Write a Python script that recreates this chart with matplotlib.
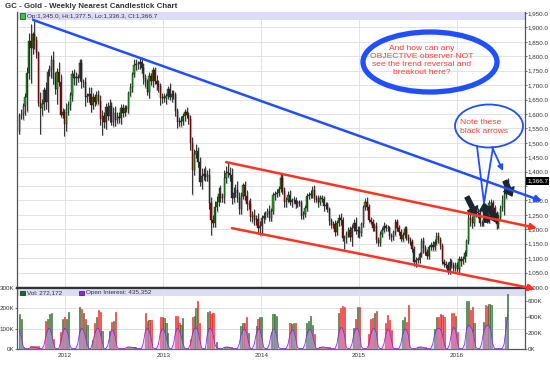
import matplotlib
matplotlib.use("Agg")
import matplotlib.pyplot as plt
import matplotlib.dates as mdates
from matplotlib.patches import Ellipse, Rectangle, FancyArrowPatch
from matplotlib.lines import Line2D
import numpy as np
import pandas as pd

plt.rcParams['font.family'] = ['Liberation Sans', 'DejaVu Sans']

# GC nearest, weekly bars 15 Jul 2011 .. 8 Jul 2016
first_open = 1542
close = [
    1594, 1601, 1628, 1659, 1742, 1852, 1828, 1876, 1856, 1813, 1637, 1620, 1635,
    1682, 1642, 1746, 1755, 1788, 1725, 1685, 1745, 1712, 1598, 1606, 1566,
    # 2012
    1617, 1630, 1665, 1737, 1725, 1725, 1725, 1776, 1710, 1712,
    1658, 1662, 1669, 1631, 1659, 1643, 1664, 1645, 1583, 1592,
    1573, 1623, 1593, 1627, 1572, 1604, 1579, 1591, 1585, 1621,
    1605, 1621, 1617, 1671, 1692, 1737, 1771, 1774, 1772, 1781,
    1758, 1725, 1712, 1677, 1731, 1714, 1752, 1714, 1704, 1697, 1657, 1656,
    # 2013
    1656, 1662, 1687, 1658, 1669, 1667, 1609, 1573, 1572, 1577,
    1592, 1608, 1596, 1581, 1501, 1405, 1462, 1470, 1435, 1364,
    1386, 1393, 1383, 1387, 1292, 1234, 1223, 1277, 1295, 1322,
    1310, 1312, 1377, 1395, 1396, 1387, 1308, 1326, 1338, 1310,
    1272, 1315, 1352, 1315, 1287, 1288, 1244, 1250, 1231, 1236, 1204, 1213,
    # 2014
    1238, 1247, 1254, 1264, 1240, 1263, 1318, 1323, 1326, 1339,
    1379, 1333, 1294, 1303, 1318, 1294, 1300, 1302, 1288, 1293,
    1292, 1245, 1252, 1274, 1316, 1320, 1320, 1338, 1310, 1303,
    1294, 1309, 1305, 1280, 1286, 1269, 1229, 1216, 1218, 1192,
    1222, 1238, 1231, 1171, 1169, 1185, 1197, 1175, 1205, 1222, 1195, 1195,
    # 2015
    1186, 1217, 1277, 1293, 1278, 1234, 1227, 1204, 1212, 1164,
    1152, 1184, 1199, 1210, 1204, 1203, 1178, 1174, 1189, 1225,
    1204, 1190, 1168, 1179, 1201, 1173, 1163, 1157, 1131, 1085,
    1094, 1094, 1113, 1159, 1134, 1121, 1108, 1137, 1145, 1137,
    1156, 1177, 1163, 1142, 1088, 1081, 1076, 1056, 1086, 1076, 1066, 1076,
    # 2016
    1061, 1098, 1089, 1097, 1117, 1158, 1239, 1231, 1221, 1271,
    1259, 1255, 1221, 1222, 1243, 1235, 1232, 1290, 1290, 1273,
    1252, 1220, 1243, 1275, 1298, 1322, 1340, 1367,
]
upper_wick = [
    8, 15, 10, 14, 20, 28, 60, 9, 47, 15, 5, 40, 18, 12, 30, 10, 15, 15, 30, 20, 15, 35, 25, 15, 10,
    20, 15, 10, 15, 20, 20, 15, 14, 16, 10, 15, 10, 25, 25, 12, 10, 15, 18, 20, 20,
    15, 15, 20, 25, 15, 20, 25, 15, 15, 12, 15, 10, 10, 10, 15, 10, 20, 15, 10, 15,
    17, 20, 12, 10, 15, 12, 10, 10, 20, 15, 12, 15,
    15, 12, 10, 20, 15, 15, 10, 12, 15, 15, 12, 10, 15, 10, 15, 20, 15, 25, 15, 15,
    25, 20, 25, 20, 25, 20, 15, 20, 20, 25, 30, 15, 30, 25, 37, 20, 25, 20, 20, 30,
    20, 15, 10, 15, 20, 15, 20, 15, 20, 15, 20, 15,
    10, 12, 10, 10, 20, 10, 10, 10, 15, 10, 13, 13, 15, 10, 15, 20, 10, 12, 10, 10,
    10, 10, 10, 10, 10, 10, 15, 12, 15, 10, 15, 10, 10, 10, 10, 10, 10, 10, 10, 15,
    10, 15, 20, 10, 10, 10, 10, 15, 12, 15, 20, 15,
    15, 10, 6, 14, 20, 10, 10, 10, 10, 15, 10, 10, 10, 15, 10, 10, 10, 10, 10, 10,
    10, 10, 10, 10, 10, 10, 10, 10, 10, 10, 10, 10, 10, 10, 15, 10, 10, 10, 10, 15,
    10, 15, 15, 10, 10, 10, 10, 10, 15, 10, 10, 10,
    10, 10, 10, 10, 10, 10, 24, 20, 15, 10, 10, 15, 20, 10, 15, 10, 10, 10, 16, 10,
    10, 10, 10, 10, 20, 40, 22, 10,
]
lower_wick = [
    10, 12, 20, 30, 50, 20, 120, 20, 30, 20, 10, 88, 25, 20, 25, 35, 15, 30, 20, 15, 50, 15, 10, 12, 43,
    25, 20, 15, 20, 25, 25, 15, 10, 20, 15, 30, 15, 20, 25, 15, 15, 10, 12, 20, 56,
    20, 25, 15, 20, 10, 15, 20, 12, 15, 20, 15, 12, 10, 15, 10, 15, 10, 20, 15, 15,
    15, 20, 20, 10, 20, 15, 20, 10, 20, 20, 25, 18,
    15, 20, 10, 10, 15, 15, 15, 20, 15, 15, 15, 15, 10, 15, 25, 84, 15, 15, 20, 15,
    25, 15, 15, 15, 20, 54, 15, 15, 15, 15, 15, 15, 20, 15, 15, 20, 20, 15, 15, 15,
    20, 20, 10, 15, 20, 15, 15, 20, 15, 15, 20, 25,
    31, 15, 10, 10, 10, 10, 10, 15, 10, 10, 10, 10, 15, 15, 10, 10, 15, 10, 15, 10,
    10, 10, 10, 10, 10, 10, 10, 10, 15, 10, 15, 10, 10, 15, 10, 10, 15, 10, 10, 15,
    10, 10, 15, 10, 38, 15, 10, 15, 33, 10, 10, 20,
    15, 10, 10, 10, 10, 10, 10, 10, 10, 10, 10, 10, 10, 10, 10, 10, 10, 15, 10, 10,
    10, 10, 10, 10, 10, 10, 10, 10, 10, 13, 15, 10, 10, 10, 15, 10, 10, 10, 10, 10,
    10, 10, 10, 10, 10, 10, 10, 10, 10, 10, 10, 10,
    10, 15, 15, 10, 10, 10, 10, 20, 15, 10, 15, 15, 10, 10, 10, 10, 10, 10, 10, 15,
    10, 20, 15, 10, 10, 48, 15, 4,
]
# volume in thousands (left scale)
volume = [
    172, 148, 8, 2, 2, 2, 16, 16, 16, 16, 16, 2, 2, 2, 138, 148, 172, 177, 49, 2,
    2, 2, 84, 148, 158, 148, 182, 2, 2, 2, 2, 2, 207, 197, 177, 148, 118, 2, 2, 44,
    128, 158, 192, 182, 89, 2, 2, 2, 89, 133, 138, 182, 2, 2, 2, 2, 2, 10, 10, 10,
    10, 10, 10, 2, 2, 2, 2, 177, 138, 143, 143, 2, 2, 2, 2, 158, 158, 152, 128, 79,
    2, 2, 2, 162, 162, 126, 118, 151, 2, 2, 2, 49, 158, 162, 202, 236, 126, 2, 2, 2,
    182, 187, 172, 177, 2, 34, 2, 2, 2, 10, 10, 10, 10, 10, 2, 2, 2, 2, 113, 128,
    126, 158, 79, 2, 2, 2, 114, 146, 158, 158, 2, 2, 2, 2, 84, 172, 171, 164, 2, 2,
    2, 2, 2, 2, 126, 121, 130, 126, 2, 2, 2, 2, 2, 130, 139, 162, 118, 74, 2, 2,
    10, 10, 10, 10, 10, 10, 2, 2, 2, 2, 179, 200, 212, 208, 2, 2, 2, 2, 105, 146,
    205, 208, 2, 2, 2, 2, 74, 146, 151, 176, 187, 2, 2, 2, 2, 126, 167, 143, 93, 2,
    2, 2, 2, 2, 143, 156, 135, 217, 2, 2, 2, 2, 10, 10, 10, 10, 10, 2, 2, 2,
    2, 97, 156, 159, 171, 167, 159, 2, 2, 2, 176, 176, 162, 85, 2, 2, 2, 2, 238, 238,
    192, 205, 126, 2, 2, 2, 2, 135, 217, 212, 221, 217, 2, 2, 2, 2, 2, 2, 2, 159,
    272,
]
# open interest in thousands (right scale)
open_int = [
    230, 150, 30, 5, 5, 5, 20, 25, 20, 15, 10, 5, 5, 40, 150, 240, 260, 200, 80,
    10, 5, 5, 90, 200, 260, 240, 180, 30, 5, 5, 5, 60, 200, 260, 240, 170, 60, 5, 5,
    80, 180, 250, 260, 200, 100, 10, 5, 40, 150, 240, 230, 150, 20, 5, 5, 5, 5, 20, 25,
    25, 20, 15, 10, 5, 5, 5, 80, 220, 260, 230, 150, 20, 5, 5, 60, 200, 250, 240, 160,
    60, 5, 5, 60, 200, 260, 240, 170, 80, 5, 5, 5, 60, 180, 250, 270, 230, 120, 10, 5,
    5, 180, 260, 250, 200, 60, 20, 5, 5, 5, 20, 25, 25, 20, 10, 5, 5, 5, 60, 180,
    240, 250, 200, 80, 5, 5, 60, 180, 250, 240, 150, 20, 5, 5, 60, 180, 250, 240, 160, 20,
    5, 5, 5, 5, 60, 180, 240, 230, 150, 20, 5, 5, 5, 60, 180, 240, 250, 180, 80, 5,
    5, 20, 25, 25, 20, 15, 10, 5, 5, 5, 60, 200, 270, 260, 180, 20, 5, 5, 60, 180,
    250, 260, 200, 30, 5, 5, 5, 60, 180, 250, 260, 200, 30, 5, 5, 60, 180, 250, 230, 120,
    10, 5, 5, 5, 60, 180, 250, 240, 180, 20, 5, 5, 5, 20, 25, 25, 20, 10, 5, 5,
    5, 60, 180, 250, 260, 250, 200, 80, 5, 5, 60, 200, 270, 250, 120, 5, 5, 5, 60, 250,
    300, 280, 250, 150, 20, 5, 5, 60, 200, 280, 300, 290, 220, 60, 5, 5, 5, 5, 5, 60,
    250, 435,
]

years = ['2012', '2013', '2014', '2015', '2016']
price_ticks = list(range(1000, 1951, 50))
vol_ticks = [0, 100, 200, 300]
oi_ticks = [0, 200, 400, 600]
header_txt = 'Op:1,345.0, Hi:1,377.5, Lo:1,336.3, Cl:1,366.7'
last_close = 1366.7

W, H = 550, 374
def fx(p):
    return p / W
def fy(p):
    return 1 - p / H

dates = pd.date_range('2011-07-15', periods=len(close), freq='W-FRI')
x = mdates.date2num(dates)
c = np.array(close, float)
o = np.r_[first_open, c[:-1]]
hi = np.maximum(o, c) + np.array(upper_wick)
lo = np.minimum(o, c) - np.array(lower_wick)
up = c >= o

fig = plt.figure(figsize=(5.5, 3.74), dpi=100)
ax = fig.add_axes([fx(17), fy(288), (525 - 17) / W, (288 - 12) / H])
axv = fig.add_axes([fx(17), fy(349), (525 - 17) / W, (349 - 288) / H], sharex=ax)

year_x = mdates.date2num([pd.Timestamp(y + '-01-01') for y in years])
ax.set_xlim(mdates.date2num(pd.Timestamp('2011-07-06')),
            mdates.date2num(pd.Timestamp('2016-09-10')))

tick_kw = dict(labelsize=4.5, length=1.3, width=0.6, color='#555555',
               labelcolor='#333333', pad=0.6)

# ---- price panel
ax.set_ylim(996.5, 1953.5)
ax.set_yticks(price_ticks)
ax.set_yticklabels(['' if v == 1350 else f'{v:,.1f}' for v in price_ticks])
ax.yaxis.tick_right()
ax.tick_params(axis='y', **tick_kw)
ax.set_xticks(year_x)
ax.tick_params(axis='x', length=0, labelbottom=False)
ax.grid(color='#e3e3e3', lw=0.7)
ax.set_axisbelow(True)
ax.spines['top'].set_visible(False)
for s in ['left', 'right']:
    ax.spines[s].set_color('#555555')
    ax.spines[s].set_linewidth(0.9)
ax.spines['bottom'].set_color('#333333')
ax.spines['bottom'].set_linewidth(1.6)
ax.axhspan(1925, 1960, color='#dcdcf7', lw=0, zorder=1)

ax.vlines(x + 3.5, lo - 4, hi - 4, color='#cccccc', lw=1.6, zorder=2)
ax.vlines(x, lo, hi, color='#1a1a1a', lw=0.6, zorder=3)
body = np.maximum(np.abs(c - o), 2)
ax.bar(x, body, bottom=np.minimum(o, c), width=4.2,
       color=np.where(up, '#22a822', '#b00000'), edgecolor='#111111', lw=0.3, zorder=4)

ax.text(1.004, last_close, '1,366.7', transform=ax.get_yaxis_transform(),
        ha='left', va='center', fontsize=4.5, color='white', zorder=6,
        bbox=dict(boxstyle='square,pad=0.2', fc='black', ec='none'))

# ---- volume panel
axv.set_ylim(0, 300)
axv.axhspan(261, 300, color='#dcdcf7', lw=0, zorder=0)
axv.bar(x, volume, width=4.5, color=np.where(up, '#6fa86f', '#ff6a6a'),
        edgecolor=np.where(up, '#235d23', '#ee1111'), lw=0.4, zorder=3)
axv.set_yticks(vol_ticks)
axv.set_yticklabels([f'{v}K' for v in vol_ticks])
axv.set_xticks(year_x)
axv.set_xticklabels(years)
axv.tick_params(**tick_kw)
axv.tick_params(axis='x', length=0, pad=3)
axv.grid(color='#e3e3e3', lw=0.7)
axv.set_axisbelow(True)
axv.spines['top'].set_color('#333333')
axv.spines['top'].set_linewidth(1.6)
for s in ['left', 'right', 'bottom']:
    axv.spines[s].set_color('#555555')
    axv.spines[s].set_linewidth(0.9)

axo = axv.twinx()
axo.set_ylim(0, 762)
axo.fill_between(x, open_int, color='#c9a0ff', alpha=0.45, lw=0, zorder=2)
axo.plot(x, open_int, color='#8a2be2', lw=0.6, zorder=3)
axo.set_yticks(oi_ticks)
axo.set_yticklabels([f'{v}K' for v in oi_ticks])
axo.tick_params(**tick_kw)
for s in axo.spines.values():
    s.set_visible(False)

# ---- header texts
fig.text(fx(5), fy(6.5), 'GC - Gold - Weekly Nearest Candlestick Chart',
         fontsize=5.7, weight='bold', color='#333333', va='center')
fig.add_artist(Rectangle((fx(19.5), fy(18.5)), 5 / W, 5 / H, transform=fig.transFigure,
                         fc='#33cc33', ec='#114411', lw=0.5))
fig.text(fx(27), fy(16.5), header_txt, fontsize=4.6, color='#333333', va='center')
fig.add_artist(Rectangle((fx(20), fy(295)), 4.5 / W, 4.5 / H, transform=fig.transFigure,
                         fc='#1e6b1e', ec='#0b2d0b', lw=0.5))
fig.text(fx(27), fy(292.5), 'Vol: 272,172', fontsize=4.6, color='#333333', va='center')
fig.add_artist(Rectangle((fx(79), fy(295)), 4.5 / W, 4.5 / H, transform=fig.transFigure,
                         fc='#8a2be2', ec='#3b0d6b', lw=0.5))
fig.text(fx(86), fy(292.5), 'Open Interest: 435,352', fontsize=4.6, color='#333333',
         va='center')

# ---- trend lines
blue = '#1f4fff'
red = '#ff3322'
def tline(d0, p0, d1, p1, col):
    a = FancyArrowPatch((mdates.date2num(pd.Timestamp(d0)), p0),
                        (mdates.date2num(pd.Timestamp(d1)), p1),
                        transform=ax.transData, arrowstyle='-|>', mutation_scale=9,
                        lw=1.8, color=col, shrinkA=0, shrinkB=0, zorder=7)
    fig.add_artist(a)

tline('2011-09-04', 1926, '2016-11-13', 1298, blue)
tline('2013-08-23', 1433, '2016-10-25', 1204, red)
tline('2013-09-14', 1204, '2016-10-18', 993, red)

# ---- callouts
fig.add_artist(Ellipse((fx(430), fy(62)), 134 / W, 60 / H, transform=fig.transFigure,
                       fill=False, ec=blue, lw=3.8))
fig.text(fx(422), fy(61), 'And how can any\nOBJECTIVE observer NOT\nsee the trend reversal and\nbreakout here?',
         ha='center', va='center', color='#ff3b3b', fontsize=6.1, linespacing=1.2)
fig.add_artist(Ellipse((fx(489), fy(126)), 68 / W, 43 / H, transform=fig.transFigure,
                       fill=False, ec=blue, lw=1.3))
fig.add_artist(Line2D([fx(477), fx(484), fx(493)], [fy(146.5), fy(203), fy(147.5)],
                      transform=fig.transFigure, color=blue, lw=1.3))
fig.text(fx(460), fy(127), 'Note these\nblack arrows', ha='left', va='center',
         color='#ff3b3b', fontsize=6.1, linespacing=1.25)
fig.add_artist(FancyArrowPatch((fx(492), fy(147)), (fx(503), fy(171)),
                               transform=fig.transFigure, arrowstyle='-|>',
                               mutation_scale=8, lw=1.3, color=blue, shrinkA=0, shrinkB=0))

for (x0, y0, x1, y1) in [(467, 197, 476, 215), (487, 222, 484, 203),
                         (489, 207, 496, 222), (505, 181, 512, 196)]:
    fig.add_artist(FancyArrowPatch((fx(x0), fy(y0)), (fx(x1), fy(y1)),
                                   transform=fig.transFigure,
                                   arrowstyle='simple,head_length=0.6,head_width=0.9,tail_width=0.35',
                                   mutation_scale=9, color='#1b2631', shrinkA=0, shrinkB=0))

fig.savefig('out.png', dpi=100)
